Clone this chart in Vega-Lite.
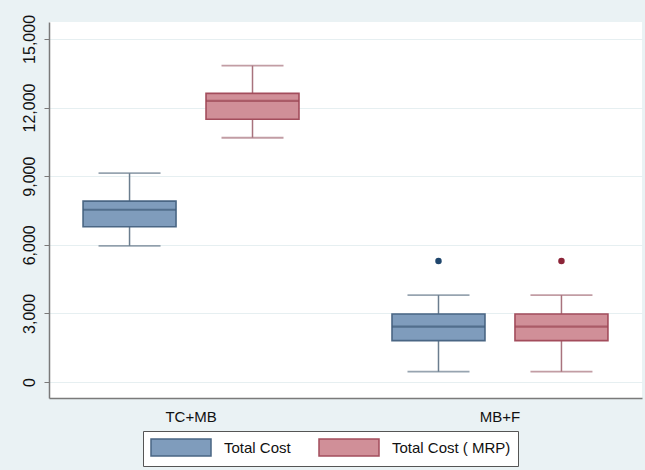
{
  "$schema": "https://vega.github.io/schema/vega-lite/v6.json",
  "autosize": "none",
  "width": 593,
  "height": 376,
  "padding": {"left": 49, "top": 22, "right": 3, "bottom": 72},
  "background": "#eaf2f4",
  "datasets": {
    "boxes": [
      {"group": "TC+MB", "series": "Total Cost", "lower": 5950, "q1": 6790, "median": 7530, "q3": 7910, "upper": 9130},
      {"group": "TC+MB", "series": "Total Cost ( MRP)", "lower": 10680, "q1": 11490, "median": 12290, "q3": 12620, "upper": 13830},
      {"group": "MB+F", "series": "Total Cost", "lower": 450, "q1": 1810, "median": 2420, "q3": 2970, "upper": 3800},
      {"group": "MB+F", "series": "Total Cost ( MRP)", "lower": 450, "q1": 1810, "median": 2420, "q3": 2970, "upper": 3800}
    ],
    "outliers": [
      {"group": "MB+F", "series": "Total Cost", "value": 5290},
      {"group": "MB+F", "series": "Total Cost ( MRP)", "value": 5290}
    ]
  },
  "data": {"name": "boxes"},
  "encoding": {
    "x": {
      "field": "group",
      "type": "nominal",
      "sort": ["TC+MB", "MB+F"],
      "scale": {"paddingInner": 0.2, "paddingOuter": 0.0597},
      "axis": {
        "title": null,
        "labelAngle": 0,
        "labelFontSize": 15,
        "labelColor": "#111",
        "labelPadding": 11,
        "labelBaseline": "top",
        "ticks": false,
        "domainColor": "#7a7a7a",
        "domainWidth": 1.5,
        "grid": false
      }
    },
    "xOffset": {
      "field": "series",
      "type": "nominal",
      "sort": ["Total Cost", "Total Cost ( MRP)"],
      "scale": {"paddingInner": 0.244, "paddingOuter": 0.127}
    }
  },
  "layer": [
    {
      "mark": {"type": "rule", "strokeWidth": 1.5},
      "encoding": {
        "y": {
          "field": "lower",
          "type": "quantitative",
          "scale": {"domain": [-700, 15740], "nice": false, "zero": false},
          "axis": {
            "title": null,
            "values": [0, 3000, 6000, 9000, 12000, 15000],
            "format": ",d",
            "labelAngle": -90,
            "labelAlign": "center",
            "labelBaseline": "alphabetic",
            "labelFontSize": 16,
            "labelColor": "#111",
            "labelPadding": 10,
            "tickSize": 5,
            "tickColor": "#7a7a7a",
            "domainColor": "#7a7a7a",
            "domainWidth": 1.5,
            "grid": true,
            "gridColor": "#e6eff1",
            "gridWidth": 1
          }
        },
        "y2": {"field": "upper"},
        "color": {
          "condition": {"test": "datum.series === 'Total Cost'", "value": "#6b7d8e"},
          "value": "#a8737d"
        }
      }
    },
    {
      "mark": {"type": "tick", "size": 62, "thickness": 1.8},
      "encoding": {
        "y": {"field": "lower", "type": "quantitative"},
        "color": {
          "condition": {"test": "datum.series === 'Total Cost'", "value": "#6b7d8e"},
          "value": "#a8737d"
        }
      }
    },
    {
      "mark": {"type": "tick", "size": 62, "thickness": 1.8},
      "encoding": {
        "y": {"field": "upper", "type": "quantitative"},
        "color": {
          "condition": {"test": "datum.series === 'Total Cost'", "value": "#6b7d8e"},
          "value": "#a8737d"
        }
      }
    },
    {
      "mark": {"type": "bar", "strokeWidth": 1.6},
      "encoding": {
        "y": {"field": "q1", "type": "quantitative"},
        "y2": {"field": "q3"},
        "fill": {
          "field": "series",
          "type": "nominal",
          "sort": ["Total Cost", "Total Cost ( MRP)"],
          "scale": {"range": ["#7f9cbc", "#d08f98"]},
          "legend": {
            "title": null,
            "orient": "none",
            "legendX": 94,
            "legendY": 409,
            "direction": "horizontal",
            "symbolType": "M-1,-1H6.06V1H-1Z",
            "symbolSize": 289,
            "symbolStrokeWidth": 1.5,
            "symbolOpacity": 1,
            "labelOffset": 55,
            "encode": {
              "symbols": {
                "update": {
                  "stroke": {"scale": "stroke", "field": "value"},
                  "fill": {"scale": "fill", "field": "value"}
                }
              }
            }
          }
        },
        "stroke": {
          "field": "series",
          "type": "nominal",
          "sort": ["Total Cost", "Total Cost ( MRP)"],
          "scale": {"range": ["#4a6684", "#a34d5c"]},
          "legend": null
        }
      }
    },
    {
      "mark": {"type": "tick", "size": 93, "thickness": 2.2},
      "encoding": {
        "y": {"field": "median", "type": "quantitative"},
        "color": {
          "condition": {"test": "datum.series === 'Total Cost'", "value": "#3f5b79"},
          "value": "#9a4453"
        }
      }
    },
    {
      "data": {"name": "outliers"},
      "mark": {"type": "point", "filled": true, "size": 42, "opacity": 1},
      "encoding": {
        "y": {"field": "value", "type": "quantitative"},
        "color": {
          "condition": {"test": "datum.series === 'Total Cost'", "value": "#1f466c"},
          "value": "#8c2438"
        }
      }
    }
  ],
  "config": {
    "font": "Liberation Sans",
    "view": {"fill": "white", "stroke": null},
    "legend": {
      "labelFontSize": 15,
      "labelColor": "#111",
      "columnPadding": 25,
      "padding": 7,
      "strokeColor": "#555",
      "fillColor": "white"
    }
  }
}
